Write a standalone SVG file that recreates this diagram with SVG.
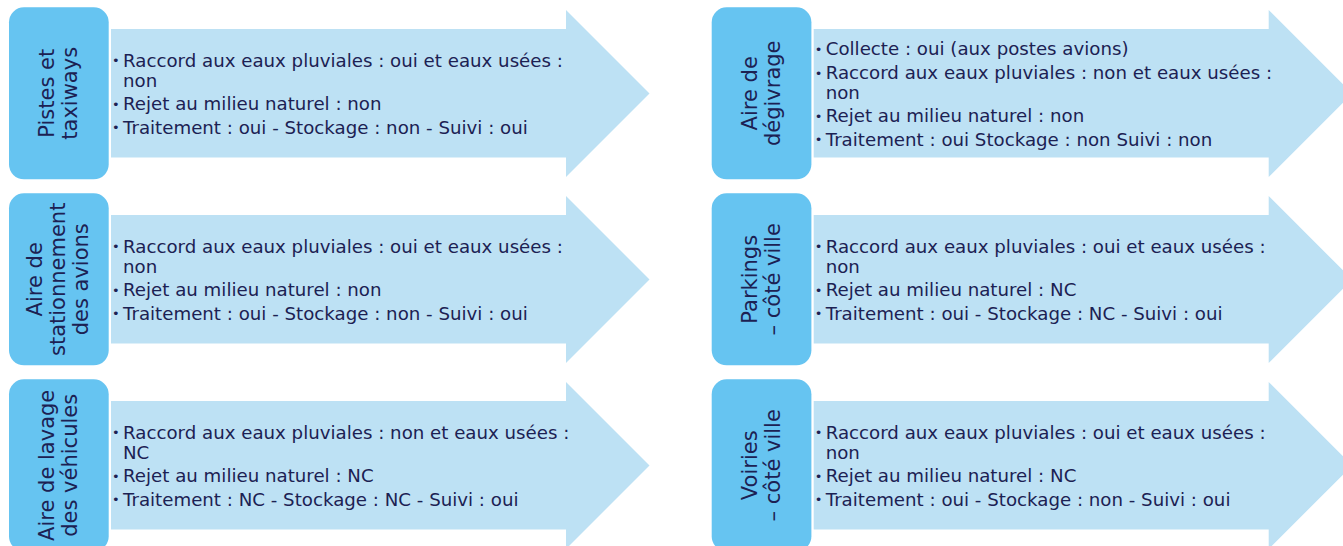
<svg xmlns="http://www.w3.org/2000/svg" width="1343" height="546" viewBox="0 0 1343 546">
<defs>
<style>
.lbl{fill:#66c4f1}
.arr{fill:#bde1f4}
.t{font-family:"DejaVu Sans","Liberation Sans",sans-serif;font-size:18.2px;fill:#1c2153}
.b{font-size:13px}
.h{font-family:"DejaVu Sans","Liberation Sans",sans-serif;font-size:21px;fill:#1c2153;text-anchor:middle}
</style>
<polygon id="arrowL" class="arr" points="111,29 566,29 566,10 649.5,93.5 566,177 566,157.5 111,157.5"/>
<rect id="boxL" class="lbl" x="9" y="7.3" width="99.7" height="172" rx="15"/>
</defs>
<g id="connectors"/>

<g id="n-pistes">
<use href="#arrowL"/><use href="#boxL"/>
<text class="h" transform="translate(58.8,93.3) rotate(-90)"><tspan x="0" y="-5">Pistes et</tspan><tspan x="0" y="18">taxiways</tspan></text>
<text class="t"><tspan class="b" x="112" y="65">•</tspan><tspan x="123" y="66.5">Raccord aux eaux pluviales : oui et eaux usées :</tspan><tspan x="123" y="86.5">non</tspan><tspan class="b" x="112" y="108.5">•</tspan><tspan x="123" y="110">Rejet au milieu naturel : non</tspan><tspan class="b" x="112" y="132">•</tspan><tspan x="123" y="133.5">Traitement : oui - Stockage : non - Suivi : oui</tspan></text>
</g>

<g id="n-stationnement" transform="translate(0,186)">
<use href="#arrowL"/><use href="#boxL"/>
<text class="h" transform="translate(58.8,93.3) rotate(-90)"><tspan x="0" y="-17">Aire de</tspan><tspan x="0" y="6">stationnement</tspan><tspan x="0" y="29">des avions</tspan></text>
<text class="t"><tspan class="b" x="112" y="65">•</tspan><tspan x="123" y="66.5">Raccord aux eaux pluviales : oui et eaux usées :</tspan><tspan x="123" y="86.5">non</tspan><tspan class="b" x="112" y="108.5">•</tspan><tspan x="123" y="110">Rejet au milieu naturel : non</tspan><tspan class="b" x="112" y="132">•</tspan><tspan x="123" y="133.5">Traitement : oui - Stockage : non - Suivi : oui</tspan></text>
</g>

<g id="n-lavage" transform="translate(0,372)">
<use href="#arrowL"/><use href="#boxL"/>
<text class="h" transform="translate(58.8,93.3) rotate(-90)"><tspan x="0" y="-5">Aire de lavage</tspan><tspan x="0" y="18">des véhicules</tspan></text>
<text class="t"><tspan class="b" x="112" y="65">•</tspan><tspan x="123" y="66.5">Raccord aux eaux pluviales : non et eaux usées :</tspan><tspan x="123" y="86.5">NC</tspan><tspan class="b" x="112" y="108.5">•</tspan><tspan x="123" y="110">Rejet au milieu naturel : NC</tspan><tspan class="b" x="112" y="132">•</tspan><tspan x="123" y="133.5">Traitement : NC - Stockage : NC - Suivi : oui</tspan></text>
</g>

<g id="n-degivrage" transform="translate(702.7,0)">
<use href="#arrowL"/><use href="#boxL"/>
<text class="h" transform="translate(58.8,93.3) rotate(-90)"><tspan x="0" y="-5">Aire de</tspan><tspan x="0" y="18">dégivrage</tspan></text>
<text class="t"><tspan class="b" x="112" y="53.5">•</tspan><tspan x="123" y="55">Collecte : oui (aux postes avions)</tspan><tspan class="b" x="112" y="77.5">•</tspan><tspan x="123" y="79">Raccord aux eaux pluviales : non et eaux usées :</tspan><tspan x="123" y="98.5">non</tspan><tspan class="b" x="112" y="120.5">•</tspan><tspan x="123" y="122">Rejet au milieu naturel : non</tspan><tspan class="b" x="112" y="144">•</tspan><tspan x="123" y="145.5">Traitement : oui Stockage : non Suivi : non</tspan></text>
</g>

<g id="n-parkings" transform="translate(702.7,186)">
<use href="#arrowL"/><use href="#boxL"/>
<text class="h" transform="translate(58.8,93.3) rotate(-90)"><tspan x="0" y="-5">Parkings</tspan><tspan x="0" y="18">– côté ville</tspan></text>
<text class="t"><tspan class="b" x="112" y="65">•</tspan><tspan x="123" y="66.5">Raccord aux eaux pluviales : oui et eaux usées :</tspan><tspan x="123" y="86.5">non</tspan><tspan class="b" x="112" y="108.5">•</tspan><tspan x="123" y="110">Rejet au milieu naturel : NC</tspan><tspan class="b" x="112" y="132">•</tspan><tspan x="123" y="133.5">Traitement : oui - Stockage : NC - Suivi : oui</tspan></text>
</g>

<g id="n-voiries" transform="translate(702.7,372)">
<use href="#arrowL"/><use href="#boxL"/>
<text class="h" transform="translate(58.8,93.3) rotate(-90)"><tspan x="0" y="-5">Voiries</tspan><tspan x="0" y="18">– côté ville</tspan></text>
<text class="t"><tspan class="b" x="112" y="65">•</tspan><tspan x="123" y="66.5">Raccord aux eaux pluviales : oui et eaux usées :</tspan><tspan x="123" y="86.5">non</tspan><tspan class="b" x="112" y="108.5">•</tspan><tspan x="123" y="110">Rejet au milieu naturel : NC</tspan><tspan class="b" x="112" y="132">•</tspan><tspan x="123" y="133.5">Traitement : oui - Stockage : non - Suivi : oui</tspan></text>
</g>
</svg>
